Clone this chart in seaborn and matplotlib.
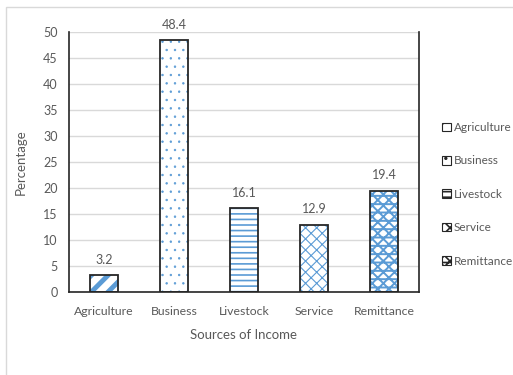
import matplotlib
matplotlib.use("Agg")
import matplotlib.pyplot as plt
import seaborn as sns
import pandas as pd
from matplotlib.patches import Patch, Rectangle

# Income sources and their share (%)
sources = ["Agriculture", "Business", "Livestock", "Service", "Remittance"]
percentages = [3.2, 48.4, 16.1, 12.9, 19.4]
y_ticks = [0, 5, 10, 15, 20, 25, 30, 35, 40, 45, 50]

hatches = ["//", "..", "---", "xxx", "xxx--"]
hatch_widths = [3.5, 0.5, 1.2, 0.8, 1.4]
hatch_blue = "#5B9BD5"
text_grey = "#595959"

sns.set_theme(style="white")
plt.rcParams["font.family"] = ["Lato", "DejaVu Sans"]
plt.rcParams["hatch.linewidth"] = 1.2

df = pd.DataFrame({"Source": sources, "Percentage": percentages})

fig = plt.figure(figsize=(5.13, 3.75), dpi=100)
ax = fig.add_axes([69 / 513, 1 - 292 / 375, 350 / 513, 260 / 375])

# hatched fill in blue
sns.barplot(data=df, x="Source", y="Percentage", order=sources, width=0.4,
            color="white", edgecolor=hatch_blue, linewidth=0, ax=ax)
for bar, h, hw in zip(ax.patches, hatches, hatch_widths):
    bar.set_hatch(h)
    bar.set_facecolor("white")
    try:
        bar.set_hatch_linewidth(hw)
    except AttributeError:
        pass

# black outline on top
sns.barplot(data=df, x="Source", y="Percentage", order=sources, width=0.4,
            fill=False, edgecolor="#262626", linewidth=1.3, ax=ax)

# value labels
for xi, v in enumerate(percentages):
    ax.annotate(f"{v}", (xi, v), xytext=(0, 7), textcoords="offset points",
                ha="center", va="bottom", fontsize=9, color=text_grey)

ax.set_ylim(0, 50)
ax.set_yticks(y_ticks)
ax.set_yticklabels([str(t) for t in y_ticks], fontsize=9, color=text_grey)
ax.tick_params(axis="x", labelsize=8.8, colors=text_grey, pad=10, length=0)
ax.tick_params(axis="y", pad=8, length=0)
ax.yaxis.grid(True, color="#d9d9d9", linewidth=1)
ax.set_axisbelow(True)

for side in ["left", "bottom", "right"]:
    ax.spines[side].set_visible(True)
    ax.spines[side].set_color("#262626")
    ax.spines[side].set_linewidth(1.2)
ax.spines["top"].set_visible(False)

ax.set_xlabel("Sources of Income", fontsize=9.5, color=text_grey, labelpad=9)
ax.set_ylabel("Percentage", fontsize=9.5, color=text_grey, labelpad=12)

handles = [Patch(facecolor="white", edgecolor="#262626", hatch=h, linewidth=0.8,
                 label=s) for s, h in zip(sources, hatches)]
fig.legend(handles=handles, loc="upper left", bbox_to_anchor=(442 / 513, 1 - 122 / 375),
           frameon=False, fontsize=8.5, handlelength=0.75, handleheight=0.75,
           handletextpad=0.25, labelspacing=1.9, labelcolor=text_grey,
           borderpad=0, borderaxespad=0)

# outer chart border
fig.patches.append(Rectangle((6 / 513, -0.1), 1.2, 1.1 - 7 / 375,
                             transform=fig.transFigure, fill=False,
                             edgecolor="#d9d9d9", linewidth=1, zorder=0))

fig.savefig("out.png", dpi=100)
